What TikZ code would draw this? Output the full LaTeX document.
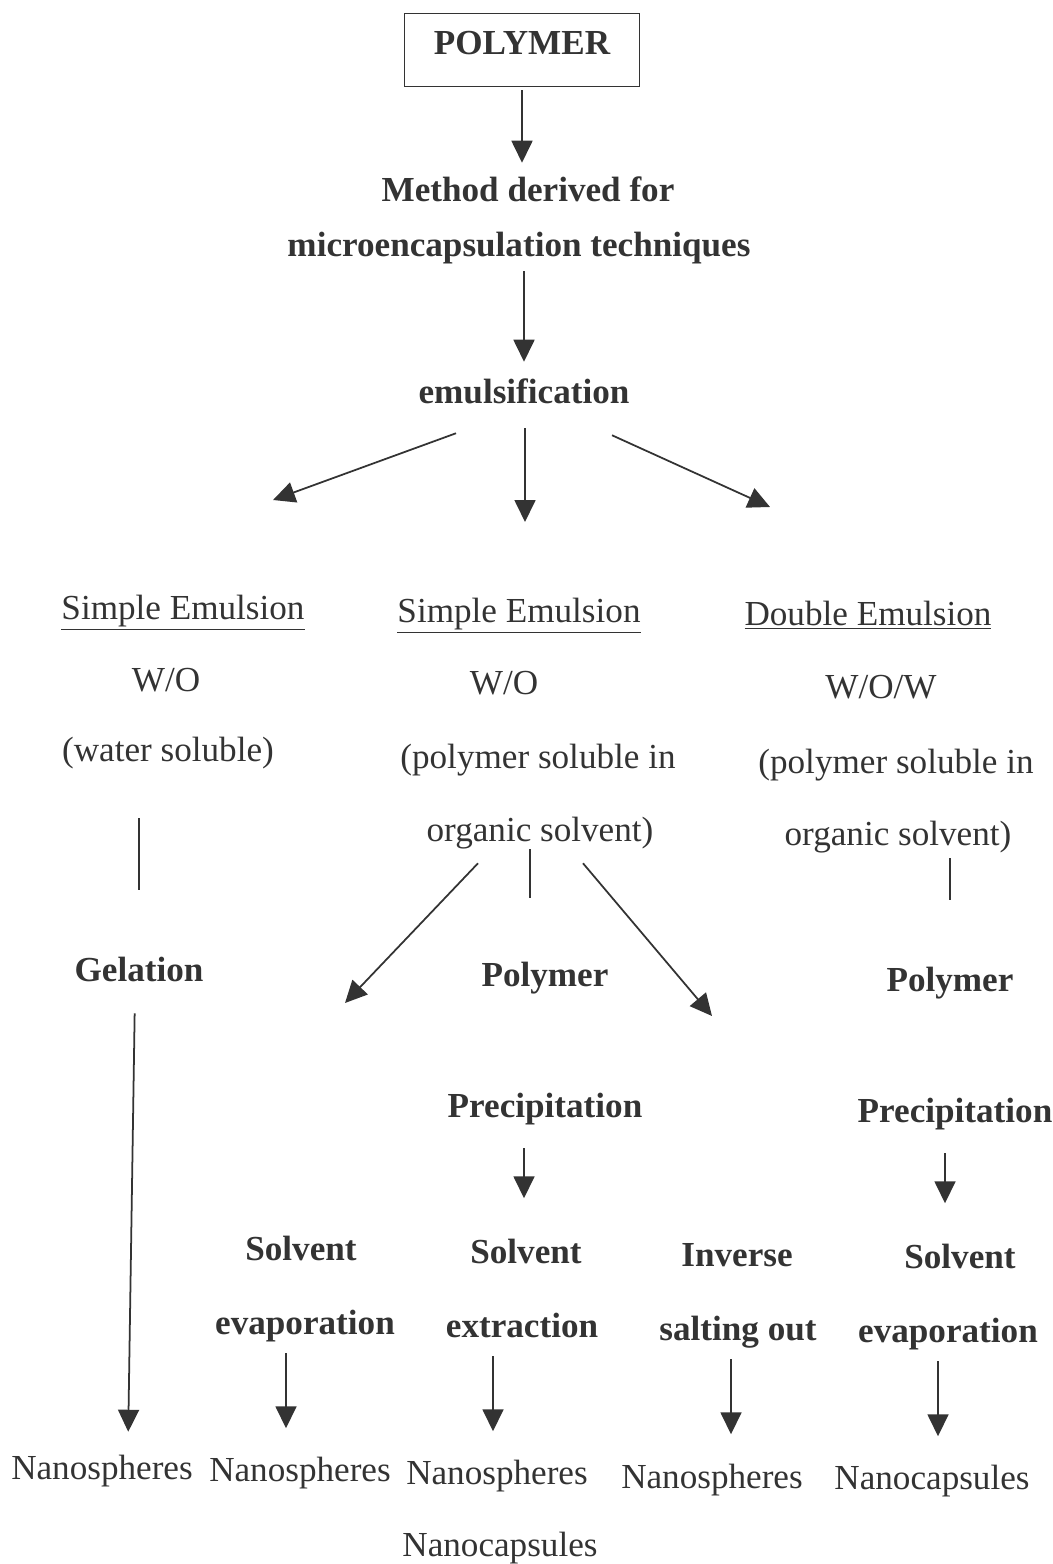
\documentclass[tikz,border=0pt]{standalone}
\usepackage{fontspec}
\setmainfont{Liberation Serif}
\usetikzlibrary{arrows.meta}
\definecolor{ink}{HTML}{333333}
\tikzset{
  lbl/.style={text=ink, font=\fontsize{20}{24}\selectfont, inner sep=1pt,
    text height=17.4pt, text depth=4.4pt},
  blbl/.style={lbl, font=\fontsize{20}{24}\selectfont\bfseries},
  arr/.style={draw=ink, line width=1pt, -{Triangle[length=0.44cm, width=0.42cm]}},
  ln/.style={draw=ink, line width=1pt},
}
\begin{document}
\begin{tikzpicture}[x=0.02cm, y=-0.02cm] % 1 unit = 1 px of the page, y downwards
  \useasboundingbox (0,0) rectangle (1053,1564);
  % top
  \node[blbl, draw=ink, line width=0.8pt, minimum width=4.7cm, minimum height=1.46cm,
    text height=14pt, text depth=8.4pt] (poly) at (522,50) {POLYMER};
  \node[blbl] (meth) at (528,190) {Method derived for};
  \node[blbl] (micro) at (519,245) {microencapsulation techniques};
  \node[blbl] (emul) at (524,392) {emulsification};
  % the three emulsions
  \node[lbl] (seA) at (183,608) {\underline{Simple Emulsion}};
  \node[lbl] (woA) at (166,680) {W/O};
  \node[lbl] (solA) at (168,750) {(water soluble)};
  \node[lbl] (seB) at (519,611) {\underline{Simple Emulsion}};
  \node[lbl] (woB) at (504,683) {W/O};
  \node[lbl] (solB) at (538,757) {(polymer soluble in};
  \node[lbl] (orgB) at (540,830) {organic solvent)};
  \node[lbl] (deC) at (868,614) {\underline{Double Emulsion}};
  \node[lbl] (wowC) at (881,687) {W/O/W};
  \node[lbl] (solC) at (896,762) {(polymer soluble in};
  \node[lbl] (orgC) at (898,834) {organic solvent)};
  % process steps
  \node[blbl] (gel) at (139,970) {Gelation};
  \node[blbl] (polyB) at (545,975) {Polymer};
  \node[blbl] (precB) at (545,1106) {Precipitation};
  \node[blbl] (polyC) at (950,980) {Polymer};
  \node[blbl] (precC) at (955,1111) {Precipitation};
  \node[blbl] (solvD1) at (301,1249) {Solvent};
  \node[blbl] (solvD2) at (305,1323) {evaporation};
  \node[blbl] (solvE1) at (526,1252) {Solvent};
  \node[blbl] (solvE2) at (522,1326) {extraction};
  \node[blbl] (invF1) at (737,1255) {Inverse};
  \node[blbl] (invF2) at (738,1329) {salting out};
  \node[blbl] (solvG1) at (960,1257) {Solvent};
  \node[blbl] (solvG2) at (948,1331) {evaporation};
  % products
  \node[lbl] (resA) at (102,1468) {Nanospheres};
  \node[lbl] (resD) at (300,1470) {Nanospheres};
  \node[lbl] (resE) at (497,1473) {Nanospheres};
  \node[lbl] (resE2) at (500,1545) {Nanocapsules};
  \node[lbl] (resF) at (712,1477) {Nanospheres};
  \node[lbl] (resG) at (932,1478) {Nanocapsules};
  % free arrow ends
  \coordinate (tipA) at (273,500);
  \coordinate (tipB) at (525,522);
  \coordinate (tipC) at (770,507);
  \coordinate (tipD) at (345,1003);
  \coordinate (tipE) at (712,1016);
  % connectors
  \draw[arr, shorten <=0.06cm, shorten >=0.12cm] (poly.south) -- (poly.south |- meth.north);
  \draw[arr, shorten <=0.1cm, shorten >=0.18cm] (micro.south -| emul.north) -- (emul.north);
  \draw[arr] ([shift={(-68,20)}]emul.south) -- (tipA);
  \draw[arr] ([shift={(1,15)}]emul.south) -- (tipB);
  \draw[arr] ([shift={(88,22)}]emul.south) -- (tipC);
  \draw[ln, shorten <=0.94cm, shorten >=1.18cm] (gel.north |- solA.south) -- (gel.north);
  \draw[arr, shorten <=0.44cm, shorten >=0.3cm] ([xshift=-0.08cm]gel.south) -- ([xshift=0.52cm]resA.north);
  \draw[arr] ([shift={(-62,12)}]orgB.south) -- (tipD);
  \draw[ln] ([shift={(-10,-2)}]orgB.south) -- ++(0,49);
  \draw[arr] ([shift={(43,12)}]orgB.south) -- (tipE);
  \draw[ln, shorten <=0.06cm, shorten >=1.18cm] (polyC.north |- orgC.south) -- (polyC.north);
  \draw[arr] ([shift={(-21,21)}]precB.south) -- ++(0,50);
  \draw[arr] ([shift={(-10,21)}]precC.south) -- ++(0,50);
  \foreach \s/\dx in {solvD2/-19, solvE2/-29, invF2/-7, solvG2/-10}
    \draw[arr] ([shift={(\dx,9)}]\s.south) -- ++(0,75);
\end{tikzpicture}
\end{document}
